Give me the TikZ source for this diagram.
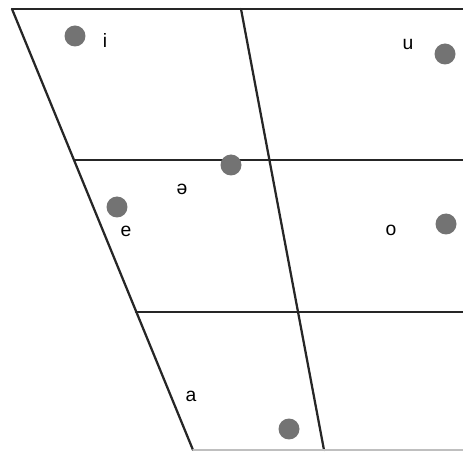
\documentclass[tikz,border=0pt]{standalone}
\usepackage{fontspec}
\setmainfont{Liberation Sans}
\usetikzlibrary{positioning}

\tikzset{
  vowel/.style={circle, fill=black!55, inner sep=0pt, minimum size=0.42cm},
  lbl/.style={inner sep=0pt, font=\fontsize{11}{12}\selectfont},
  grid/.style={line width=0.045cm, black!85}
}

\begin{document}
\begin{tikzpicture}[x=0.02cm, y=-0.02cm, line cap=round, line join=round]
\useasboundingbox (0,0) rectangle (463,452);

\coordinate (tl) at (12,9);
\coordinate (tr) at (463,9);
\coordinate (tm) at (241,9);
\coordinate (bl) at (193,450);
\coordinate (bm) at (324,450);
\coordinate (br) at (463,450);
\coordinate (ml) at (74,160);
\coordinate (mr) at (463,160);
\coordinate (ll) at (136,312);
\coordinate (lr) at (463,312);

\draw[grid] (tl) -- (tr);
\draw[grid] (tl) -- (bl);
\draw[grid] (tm) -- (bm);
\draw[grid] (ml) -- (mr);
\draw[grid] (ll) -- (lr);
\draw[line width=0.04cm, black!25] (bl) -- (br);

\node[vowel] (di) at (75,36) {};
\node[vowel] (du) at (445,54) {};
\node[vowel] (dschwa) at (231,165) {};
\node[vowel] (de) at (117,207) {};
\node[vowel] (do) at (446,224) {};
\node[vowel] (da) at (289,429) {};

\node[lbl] (i) at (105,41) {i};
\node[lbl] (u) at (408,44) {u};
\node[lbl] (schwa) at (182,189) {ə};
\node[lbl] (e) at (126,231) {e};
\node[lbl] (o) at (391,230) {o};
\node[lbl] (a) at (191,396) {a};

\end{tikzpicture}
\end{document}
